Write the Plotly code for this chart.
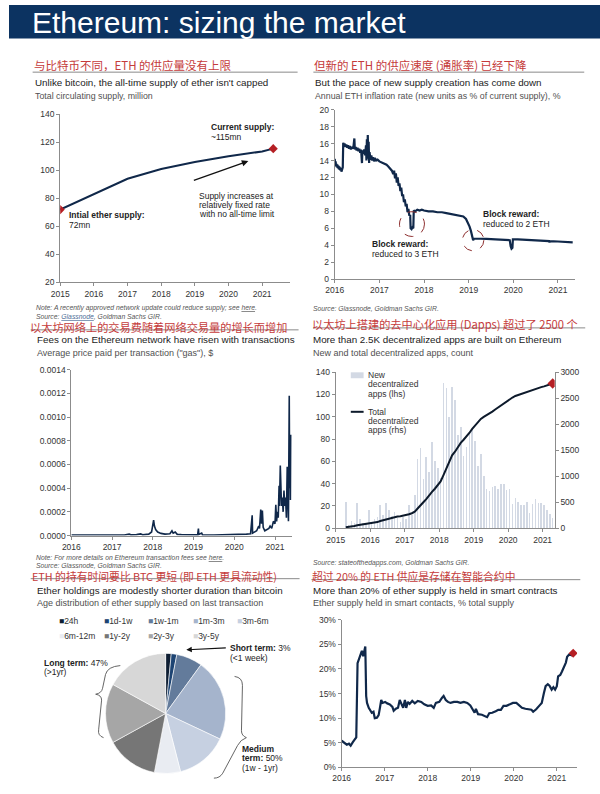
import plotly.graph_objects as go

W, H = 600, 794
def X(p): return p / W
def Y(p): return 1 - p / H

LAT = "Liberation Sans, Arial, sans-serif"
CJK = "Noto Sans CJK SC, sans-serif"
NAVY = "#10284a"
RED = "#b51f24"
CN_RED = "#c53b3b"
AX = "#8c8c8c"
TICK = "#333333"
BAR_COL = "#d3d9e4"
TOTAL_COL = "#0d1a2b"

# ---------------- data ----------------
# Panel 1: total circulating supply (million)
supply_years = [2015.0, 2016.0, 2017.0, 2018.0, 2019.0, 2020.0, 2021.0, 2021.33]
supply_mn = [72, 83, 94, 101, 106, 110, 113.5, 115.5]

# Panel 2: annual ETH inflation rate (%)
infl_t = [2016.00, 2016.01, 2016.02, 2016.03, 2016.04, 2016.05, 2016.06, 2016.07, 2016.08, 2016.09,
          2016.10, 2016.11, 2016.12, 2016.13, 2016.14, 2016.15, 2016.16, 2016.17, 2016.18, 2016.19,
          2016.20, 2016.22, 2016.24, 2016.26, 2016.28, 2016.30, 2016.32, 2016.34, 2016.36, 2016.38,
          2016.40, 2016.42, 2016.44, 2016.45, 2016.47, 2016.49, 2016.51, 2016.53, 2016.55, 2016.57,
          2016.59, 2016.61, 2016.62, 2016.64, 2016.66, 2016.68, 2016.70, 2016.71, 2016.72, 2016.73,
          2016.74, 2016.75, 2016.76, 2016.77, 2016.78, 2016.80, 2016.82, 2016.84, 2016.86, 2016.88,
          2016.90, 2016.93, 2016.96, 2017.00, 2017.04, 2017.08, 2017.12, 2017.16, 2017.20, 2017.24,
          2017.28, 2017.31, 2017.33, 2017.35, 2017.37, 2017.39, 2017.41, 2017.43, 2017.45, 2017.47,
          2017.49, 2017.51, 2017.53, 2017.55, 2017.57, 2017.59, 2017.61, 2017.63, 2017.65, 2017.67,
          2017.69, 2017.70, 2017.72, 2017.74, 2017.76, 2017.77, 2017.80, 2017.85, 2017.90, 2017.95,
          2018.00, 2018.10, 2018.20, 2018.30, 2018.40, 2018.50, 2018.60, 2018.70, 2018.80, 2018.88,
          2018.94, 2018.98, 2019.02, 2019.05, 2019.07, 2019.09, 2019.10, 2019.12, 2019.20, 2019.40,
          2019.60, 2019.80, 2019.92, 2019.94, 2019.96, 2019.98, 2019.99, 2020.10, 2020.30, 2020.50,
          2020.70, 2020.80, 2020.81, 2020.82, 2021.00, 2021.15, 2021.33]
infl_v = [14.2, 13.4, 13.9, 13.3, 13.6, 13.2, 13.5, 13.1, 13.4, 13.0,
          13.3, 12.9, 13.2, 12.8, 13.1, 12.7, 13.0, 12.8, 13.2, 16.1,
          15.8, 16.0, 15.6, 15.9, 15.5, 15.8, 15.4, 15.7, 15.3, 15.6,
          15.4, 15.7, 16.6, 15.3, 15.6, 15.2, 15.5, 15.1, 15.4, 14.9,
          15.3, 13.7, 15.2, 14.8, 15.3, 14.6, 15.8, 14.0, 16.5, 14.2,
          17.0, 14.3, 16.2, 13.7, 15.0, 14.1, 14.6, 14.0, 14.4, 13.9,
          14.3, 14.0, 14.1, 13.9, 13.8, 13.7, 13.6, 13.5, 13.3, 13.1,
          12.8, 12.4, 12.8, 11.9, 12.5, 11.4, 12.0, 11.0, 11.3, 10.4,
          10.8, 9.8, 10.0, 9.1, 9.4, 8.6, 8.9, 7.9, 8.3, 7.5,
          7.6, 6.0, 5.9, 6.1, 6.0, 8.1, 8.0, 8.2, 8.1, 8.2,
          8.1, 8.0, 8.0, 7.9, 7.9, 7.8, 7.7, 7.6, 7.5, 7.4,
          7.1, 6.7, 6.2, 5.7, 5.3, 4.9, 4.6, 4.8, 4.8, 4.75,
          4.7, 4.65, 4.6, 3.9, 3.6, 3.7, 4.7, 4.7, 4.65, 4.6,
          4.55, 4.5, 4.35, 4.5, 4.45, 4.4, 4.35]
block_reward_events = [(2017.73, 6.5), (2019.10, 4.6)]

# Panel 3: average gas price paid per transaction ($)
gas_t = [2016.00, 2016.50, 2017.00, 2017.30, 2017.42, 2017.46, 2017.60, 2017.70, 2017.75, 2017.90,
         2017.97, 2018.00, 2018.02, 2018.04, 2018.07, 2018.12, 2018.20, 2018.30, 2018.42, 2018.47,
         2018.50, 2018.55, 2018.60, 2018.70, 2018.90, 2019.00, 2019.10, 2019.12, 2019.13, 2019.20,
         2019.22, 2019.50, 2019.80, 2020.00, 2020.15, 2020.20, 2020.30, 2020.40, 2020.44, 2020.45,
         2020.52, 2020.55, 2020.60, 2020.62, 2020.65, 2020.67, 2020.69, 2020.71, 2020.75, 2020.80,
         2020.85, 2020.88, 2020.92, 2020.96, 2021.00, 2021.02, 2021.04, 2021.06, 2021.08, 2021.10,
         2021.11, 2021.13, 2021.14, 2021.16, 2021.18, 2021.20, 2021.22, 2021.24, 2021.26, 2021.28,
         2021.30, 2021.31, 2021.33, 2021.35, 2021.36, 2021.37, 2021.38, 2021.39]
gas_v = [0.000005, 0.000004, 0.000003, 0.000005, 0.000012, 0.000006, 0.000008, 0.000014, 0.000006, 0.000012,
         0.000030, 0.000090, 0.000130, 0.000080, 0.000050, 0.000030, 0.000018, 0.000012, 0.000015, 0.000040,
         0.000020, 0.000030, 0.000010, 0.000008, 0.000006, 0.000005, 0.000006, 0.000058, 0.000008, 0.000020,
         0.000005, 0.000005, 0.000006, 0.000005, 0.000010, 0.000006, 0.000012, 0.000015, 0.000170, 0.000020,
         0.000030, 0.000040, 0.000080, 0.000060, 0.000220, 0.000100, 0.000210, 0.000070, 0.000040, 0.000050,
         0.000060, 0.000080, 0.000060, 0.000120, 0.000100, 0.000260, 0.000120, 0.000200, 0.000150, 0.000420,
         0.000250, 0.000590, 0.000300, 0.000250, 0.000320, 0.000200, 0.000380, 0.000250, 0.000320, 0.000150,
         0.000580, 0.000200, 0.000120, 0.001180, 0.000400, 0.000830, 0.000300, 0.000850]

# Panel 4: decentralized apps, monthly Apr-2015 .. Apr-2021
dapp_months = [2015 + (m + 0.5) / 12 for m in range(3, 76)]
dapp_new = [24, 3, 7, 5, 23, 8, 5, 4, 16,
            6, 8, 10, 21, 12, 23, 16, 11, 15, 9, 6, 10,
            8, 21, 12, 30, 62, 72, 44, 64, 50, 77, 60, 54,
            45, 130, 126, 100, 127, 115, 84, 91, 65, 73, 86, 88,
            78, 56, 67, 47, 35, 33, 37, 38, 35, 40, 40, 34,
            35, 22, 27, 24, 21, 21, 24, 14, 22, 26, 23, 23,
            21, 16, 13, 9]
dapp_total = [20, 25, 35, 45, 60, 68, 75, 82, 95,
              100, 110, 120, 140, 155, 175, 190, 200, 215, 225, 232, 240,
              250, 270, 290, 320, 380, 450, 500, 560, 640, 700, 760, 820,
              900, 1020, 1150, 1280, 1400, 1470, 1560, 1640, 1700, 1760, 1830, 1910,
              1980, 2040, 2100, 2140, 2170, 2200, 2240, 2280, 2320, 2360, 2400, 2440,
              2480, 2510, 2540, 2560, 2580, 2600, 2620, 2640, 2660, 2680, 2700, 2710,
              2725, 2745, 2765, 2780]
dapp_legend = [["New", "decentralized", "apps (lhs)"], ["Total", "decentralized", "apps (rhs)"]]

# Panel 5: ether supply held in smart contracts (% of total)
sc_t = [2016.00, 2016.05, 2016.12, 2016.17, 2016.21, 2016.26, 2016.31, 2016.34, 2016.37, 2016.41,
        2016.44, 2016.47, 2016.50, 2016.53, 2016.55, 2016.57, 2016.59, 2016.63, 2016.66, 2016.70,
        2016.74, 2016.77, 2016.82, 2016.86, 2016.89, 2016.92, 2016.95, 2017.01, 2017.06, 2017.12,
        2017.18, 2017.21, 2017.26, 2017.31, 2017.35, 2017.39, 2017.43, 2017.47, 2017.50, 2017.54,
        2017.58, 2017.64, 2017.70, 2017.77, 2017.85, 2017.92, 2018.00, 2018.08, 2018.14, 2018.19,
        2018.27, 2018.33, 2018.37, 2018.42, 2018.47, 2018.53, 2018.61, 2018.69, 2018.76, 2018.84,
        2018.92, 2018.99, 2019.05, 2019.09, 2019.12, 2019.17, 2019.26, 2019.34, 2019.38, 2019.43,
        2019.50, 2019.58, 2019.64, 2019.70, 2019.76, 2019.83, 2019.91, 2019.98, 2020.06, 2020.12,
        2020.19, 2020.27, 2020.34, 2020.41, 2020.45, 2020.52, 2020.60, 2020.65, 2020.70, 2020.74,
        2020.79, 2020.83, 2020.88, 2020.92, 2020.96, 2021.00, 2021.03, 2021.08, 2021.12, 2021.17,
        2021.21, 2021.24, 2021.29, 2021.34, 2021.38]
sc_v = [5.4, 5.1, 4.6, 4.8, 4.4, 5.1, 5.6, 6.1, 21.2, 22.2,
        23.2, 23.7, 22.6, 23.8, 24.6, 14.5, 13.1, 12.1, 11.7, 11.1,
        11.3, 10.0, 10.1, 10.6, 12.1, 13.7, 13.1, 13.3, 13.0, 12.8,
        12.3, 11.5, 11.9, 12.1, 13.7, 12.8, 12.1, 13.7, 12.1, 13.3,
        12.9, 13.5, 13.0, 13.5, 13.3, 12.8, 12.5, 12.6, 12.1, 13.1,
        13.3, 14.1, 14.5, 13.7, 13.3, 13.1, 13.3, 13.3, 13.1, 13.3,
        13.1, 12.6, 11.7, 11.1, 11.9, 10.8, 10.7, 10.4, 10.2, 11.0,
        11.1, 11.4, 11.7, 11.7, 12.5, 12.5, 12.8, 13.1, 13.1, 12.6,
        12.1, 11.9, 11.8, 11.7, 11.3, 11.8, 12.6, 13.1, 15.1, 16.5,
        16.9, 16.6, 15.8, 16.3, 15.8, 16.5, 18.5, 18.8, 19.5, 20.4,
        21.3, 22.5, 23.0, 22.8, 23.2]

# Panel 6: age distribution of ether supply (%)
age_labels = ["24h", "1d-1w", "1w-1m", "1m-3m", "3m-6m", "6m-12m", "1y-2y", "2y-3y", "3y-5y"]
age_share = [1.5, 1.5, 7, 22, 14, 7, 14, 16, 17]
age_colors = ["#0e1e33", "#1d4473", "#637b9b", "#a5b4cc", "#c6d0e1", "#e9ecf2",
              "#767676", "#a6a6a6", "#d7d7d7"]

year_ticks = [2015, 2016, 2017, 2018, 2019, 2020, 2021]

# ---------------- figure ----------------
fig = go.Figure()

fig.add_trace(go.Scatter(x=supply_years, y=supply_mn, mode="lines", line=dict(color=NAVY, width=2),
                         xaxis="x", yaxis="y", showlegend=False))
fig.add_trace(go.Scatter(x=[supply_years[0], supply_years[-1]], y=[supply_mn[0], supply_mn[-1]],
                         mode="markers", marker=dict(symbol="diamond", size=7, color=RED),
                         xaxis="x", yaxis="y", showlegend=False))
fig.add_trace(go.Scatter(x=infl_t, y=infl_v, mode="lines", line=dict(color=NAVY, width=2.2),
                         xaxis="x2", yaxis="y2", showlegend=False))
fig.add_trace(go.Scatter(x=gas_t, y=gas_v, mode="lines", line=dict(color=NAVY, width=1.6),
                         xaxis="x3", yaxis="y3", showlegend=False))
fig.add_trace(go.Bar(x=dapp_months, y=dapp_new, width=0.046, marker=dict(color=BAR_COL, line=dict(width=0)),
                     xaxis="x4", yaxis="y4", showlegend=False))
fig.add_trace(go.Scatter(x=dapp_months, y=dapp_total, mode="lines", line=dict(color=TOTAL_COL, width=2),
                         xaxis="x4", yaxis="y5", showlegend=False))
fig.add_trace(go.Scatter(x=[dapp_months[-1]], y=[dapp_total[-1]], mode="markers",
                         marker=dict(symbol="diamond", size=8, color=RED),
                         xaxis="x4", yaxis="y5", showlegend=False))
fig.add_trace(go.Scatter(x=sc_t, y=sc_v, mode="lines", line=dict(color=NAVY, width=2.2),
                         xaxis="x5", yaxis="y6", showlegend=False))
fig.add_trace(go.Scatter(x=[sc_t[-1]], y=[sc_v[-1]], mode="markers",
                         marker=dict(symbol="diamond", size=7, color=RED),
                         xaxis="x5", yaxis="y6", showlegend=False))
fig.add_trace(go.Pie(labels=age_labels, values=age_share, sort=False, direction="clockwise", rotation=0,
                     marker=dict(colors=age_colors, line=dict(color="#ffffff", width=0.6)),
                     textinfo="none", hoverinfo="label+percent", showlegend=False,
                     domain=dict(x=[X(98), X(220)], y=[Y(780), Y(655)])))

def xax(dom, rng, ticks):
    return dict(domain=dom, range=rng, tickvals=ticks, ticktext=[str(t) for t in ticks],
                showgrid=False, zeroline=False, showline=True, linecolor=AX, linewidth=1,
                ticks="outside", ticklen=3, tickcolor=AX,
                tickfont=dict(size=8.5, color=TICK, family=LAT), fixedrange=True)

def yax(dom, rng, dtick, **kw):
    d = dict(domain=dom, range=rng, dtick=dtick, tick0=0, showgrid=False, zeroline=False,
             showline=True, linecolor=AX, linewidth=1, ticks="outside", ticklen=3, tickcolor=AX,
             tickfont=dict(size=8.5, color=TICK, family=LAT), fixedrange=True)
    d.update(kw)
    return d

layout_axes = dict(
    xaxis=xax([X(52), X(285)], [2015, 2021.82], year_ticks) | dict(anchor="y"),
    yaxis=yax([Y(281), Y(110.7)], [20, 140], 20, anchor="x"),
    xaxis2=xax([X(330.7), X(575)], [2016, 2021.39], year_ticks[1:]) | dict(anchor="y2"),
    yaxis2=yax([Y(277.7), Y(106)], [0, 20], 2, anchor="x2"),
    xaxis3=xax([X(63.3), X(287)], [2016, 2021.41], year_ticks[1:]) | dict(anchor="y3"),
    yaxis3=yax([Y(537.3), Y(369.3)], [0, 0.0014], 0.0002, anchor="x3", tickformat=".4f"),
    xaxis4=xax([X(331.7), X(554)], [2015, 2021.35], year_ticks) | dict(anchor="y4"),
    yaxis4=yax([Y(530), Y(371.7)], [0, 140], 20, anchor="x4"),
    yaxis5=yax([Y(530), Y(371.7)], [0, 3000], 500, anchor="x4", overlaying="y4", side="right"),
    xaxis5=xax([X(337.7), X(576.7)], [2016, 2021.47], year_ticks[1:]) | dict(anchor="y6"),
    yaxis6=yax([Y(772), Y(622.7)], [0, 30], 5, anchor="x5", ticksuffix="%"),
)

ann = []
def txt(x, y, s, size=9, color="#222222", family=LAT, xanchor="left", yanchor="middle"):
    ann.append(dict(x=X(x), y=Y(y), xref="paper", yref="paper", text=s, showarrow=False,
                    font=dict(size=size, color=color, family=family),
                    xanchor=xanchor, yanchor=yanchor, align="left", borderpad=0))

shapes = []
def hline(x0, x1, y, color="#8a8a8a", width=1):
    shapes.append(dict(type="line", xref="paper", yref="paper", x0=X(x0), x1=X(x1), y0=Y(y), y1=Y(y),
                       line=dict(color=color, width=width)))

def path(points):
    s = ""
    for cmd, pts in points:
        s += cmd + " " + " ".join(f"{X(a):.5f},{Y(b):.5f}" for a, b in pts) + " "
    return s.strip()

# header bar
shapes.append(dict(type="rect", xref="paper", yref="paper", x0=0, x1=1, y0=Y(34), y1=1,
                   fillcolor="#0c3361", line=dict(width=0), layer="below"))
txt(22, 18, "Ethereum: sizing the market", size=30, color="#ffffff")

# --- row 1 titles
txt(24, 61, "与比特币不同，ETH 的供应量没有上限", size=11.5, color=CN_RED, family=CJK)
hline(24, 293, 68)
txt(25, 78, "Unlike bitcoin, the all-time supply of ether isn't capped", size=9.8)
txt(25, 92.5, "Total circulating supply, million", size=8.8, color="#505050")

txt(309, 61, "但新的 ETH 的供应速度 (通胀率) 已经下降", size=11.5, color=CN_RED, family=CJK)
hline(309, 584, 68)
txt(310, 78, "But the pace of new supply creation has come down", size=9.8)
txt(310, 92.5, "Annual ETH inflation rate (new units as % of current supply), %", size=8.8, color="#505050")

# panel 1 annotations
txt(204, 124, "<b>Current supply:</b>", size=8.5)
txt(204, 134, "~115mn", size=8.5)
txt(60, 213, "<b>Intial ether supply:</b>", size=8.5)
txt(60, 223, "72mn", size=8.5)
txt(192, 193, "Supply increases at", size=8.5)
txt(192, 203, "relatively fixed rate", size=8.5)
txt(192, 212, "with no all-time limit", size=8.5)
ann.append(dict(x=X(243), y=Y(158), xref="paper", yref="paper", ax=-56, ay=20, showarrow=True,
                arrowhead=2, arrowsize=1, arrowwidth=1.3, arrowcolor="#111111", text=""))
txt(26, 306.5, "<i>Note: A recently approved network update could reduce supply; see <u>here</u>.</i>", size=6.8, color="#555555")
txt(26, 315.5, "<i>Source: <span style='color:#4a6b96'><u>Glassnode</u></span>, Goldman Sachs GIR.</i>", size=6.8, color="#555555")

# panel 2 annotations
txt(368, 242, "<b>Block reward:</b>", size=8.5)
txt(368, 252, "reduced to 3 ETH", size=8.5)
txt(480, 212, "<b>Block reward:</b>", size=8.5)
txt(480, 222, "reduced to 2 ETH", size=8.5)
for (ex, ev), rx, ry in zip(block_reward_events, [0.28, 0.24], [1.46, 1.25]):
    shapes.append(dict(type="circle", xref="x2", yref="y2", x0=ex - rx, x1=ex + rx, y0=ev - ry, y1=ev + ry,
                       line=dict(color="#8e2f2f", width=1, dash="dash")))
txt(308, 307, "<i>Source: Glassnode, Goldman Sachs GIR.</i>", size=6.8, color="#555555")

# --- row 2 titles
txt(20, 326.5, "以太坊网络上的交易费随着网络交易量的增长而增加", size=11.2, color=CN_RED, family=CJK)
hline(22, 294, 329)
txt(27, 338.5, "Fees on the Ethereum network have risen with transactions", size=9.8)
txt(27, 352.5, "Average price paid per transaction (\"gas\"), $", size=9, color="#505050")

txt(307, 323.5, "以太坊上搭建的去中心化应用 (Dapps) 超过了 2500 个", size=11.2, color=CN_RED, family=CJK)
hline(309, 585, 327)
txt(308, 338.5, "More than 2.5K decentralized apps are built on Ethereum", size=9.8)
txt(308, 352.5, "New and total decentralized apps, count", size=9, color="#505050")

# dapps legend (drawn manually to match the short swatches)
shapes.append(dict(type="rect", xref="paper", yref="paper", x0=X(347), x1=X(360), y0=Y(378), y1=Y(372),
                   fillcolor=BAR_COL, line=dict(width=0)))
shapes.append(dict(type="line", xref="paper", yref="paper", x0=X(347), x1=X(360), y0=Y(412), y1=Y(412),
                   line=dict(color=TOTAL_COL, width=2)))
for base, lines in zip([375, 412], dapp_legend):
    for k, s in enumerate(lines):
        txt(363, base + 9.3 * k, s, size=8.5, color="#333333")

txt(26, 559.5, "<i>Note: For more details on Ethereum transaction fees see <u>here</u>.</i>", size=6.8, color="#555555")
txt(26, 568, "<i>Source: Glassnode, Goldman Sachs GIR.</i>", size=6.8, color="#555555")
txt(308, 565.5, "<i>Source: stateofthedapps.com, Goldman Sachs GIR.</i>", size=6.8, color="#555555")

# --- row 3 titles
txt(22, 578.5, "ETH 的持有时间要比 BTC 更短 (即 ETH 更具流动性)", size=10.8, color=CN_RED, family=CJK)
hline(22, 295, 581)
txt(27, 593, "Ether holdings are modestly shorter duration than bitcoin", size=9.8)
txt(27, 606, "Age distribution of ether supply based on last transaction", size=9, color="#505050")

txt(307, 578.5, "超过 20% 的 ETH 供应是存储在智能合约中", size=10.8, color=CN_RED, family=CJK)
hline(307, 580, 582)
txt(308, 593, "More than 20% of ether supply is held in smart contracts", size=9.8)
txt(308, 606, "Ether supply held in smart contacts, % total supply", size=9, color="#505050")

# pie legend
leg_x = [50, 95, 140, 186, 230]
for i, (lab, col) in enumerate(zip(age_labels, age_colors)):
    r, c = divmod(i, 5)
    txt(leg_x[c], 624 + 15 * r, f"<span style='color:{col}'>■</span>{lab}", size=8.5, color="#333333")

# pie annotations
txt(223, 651, "<b>Short term:</b> 3%", size=8.5)
txt(223, 661, "(<1 week)", size=8.5)
ann.append(dict(x=X(180), y=Y(653), xref="paper", yref="paper", ax=41, ay=-2, showarrow=True,
                arrowhead=2, arrowsize=1, arrowwidth=1.1, arrowcolor="#111111", text=""))
txt(35, 666, "<b>Long term:</b> 47%", size=8.5)
txt(35, 676, "(>1yr)", size=8.5)
txt(236, 753, "<b>Medium</b>", size=8.5)
txt(236, 763, "<b>term:</b> 50%", size=8.5)
txt(236, 773, "(1w - 1yr)", size=8.5)

brace_left = path([("M", [(113, 669)]), ("Q", [(100, 670), (98, 678)]), ("L", [(95, 692)]),
                   ("Q", [(94, 697), (88, 698)]), ("Q", [(94, 699), (94, 704)]), ("L", [(91, 734)]),
                   ("Q", [(90, 740), (96, 742)])])
brace_right = path([("M", [(229, 680)]), ("Q", [(237, 681), (237, 689)]), ("L", [(236, 735)]),
                    ("Q", [(236, 740), (241, 742)]), ("Q", [(235, 744), (232, 750)]), ("L", [(217, 778)]),
                    ("Q", [(214, 783), (208, 783)])])
for p in (brace_left, brace_right):
    shapes.append(dict(type="path", xref="paper", yref="paper", path=p,
                       line=dict(color="#555555", width=0.9)))

fig.update_layout(
    width=W, height=H, margin=dict(l=0, r=0, t=0, b=0),
    paper_bgcolor="#ffffff", plot_bgcolor="rgba(0,0,0,0)",
    font=dict(family=LAT, size=9, color="#222222"),
    annotations=ann, shapes=shapes, bargap=0, hovermode=False, showlegend=False,
    **layout_axes,
)

fig.write_html("out.html", config={"displayModeBar": False, "staticPlot": True},
               post_script="document.body.style.margin='0px';document.body.style.overflow='hidden';")
